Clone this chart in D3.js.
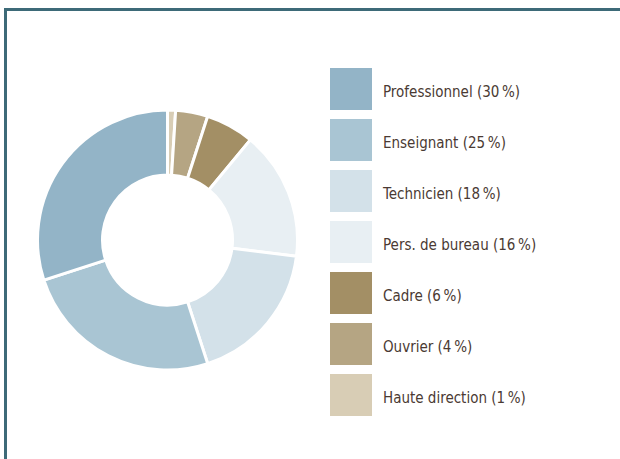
<!DOCTYPE html>
<html>
<head>
<meta charset="utf-8">
<script src="https://cdn.jsdelivr.net/npm/d3@7"></script>
<style>
  body { margin: 0; background: #fff; }
  svg { display: block; }
</style>
</head>
<body>
<div id="chart"></div>
<script>
// categories in legend order, with shares in percent
const categories = ["Professionnel", "Enseignant", "Technicien", "Pers. de bureau", "Cadre", "Ouvrier", "Haute direction"];
const shares = [30, 25, 18, 16, 6, 4, 1];
const colors = ["#93b4c7", "#a9c5d3", "#d3e1e9", "#e8eff3", "#a38f65", "#b5a583", "#d8cdb5"];

const width = 620, height = 459;

const svg = d3.select("#chart").append("svg")
    .attr("width", width)
    .attr("height", height);

// frame: top and left rule
svg.append("path")
    .attr("d", `M5.5,${height} V9.5 H${width}`)
    .style("fill", "none")
    .style("stroke", "#3d6a78")
    .style("stroke-width", 3);

const data = categories.map((c, i) => ({ name: c, value: shares[i], color: colors[i] }));

// slices run clockwise from 12 o'clock, smallest first
const pie = d3.pie()
    .value(d => d.value)
    .sort(null);

const arcs = pie(data.slice().reverse());

const arc = d3.arc()
    .innerRadius(65)
    .outerRadius(130);

const g = svg.append("g")
    .attr("transform", "translate(167.5,240)");

g.selectAll("path")
    .data(arcs)
    .enter().append("path")
    .attr("d", arc)
    .style("fill", d => d.data.color)
    .style("stroke", "#fff")
    .style("stroke-width", 3);

// legend
const y = d3.scaleBand()
    .domain(categories)
    .range([68, 416])
    .paddingInner(9 / 51);

const legend = svg.append("g");

const row = legend.selectAll("g")
    .data(data)
    .enter().append("g")
    .attr("transform", d => `translate(330,${y(d.name)})`);

row.append("rect")
    .attr("width", 42)
    .attr("height", y.bandwidth())
    .style("fill", d => d.color);

row.append("text")
    .attr("x", 53)
    .attr("y", y.bandwidth() / 2)
    .attr("dy", "0.5em")
    .text(d => `${d.name} (${d.value}\u2009%)`)
    .style("fill", "#4a3a33")
    .style("font-size", "15px")
    .style("font-family", "'Liberation Sans Narrow', 'DejaVu Sans Condensed', sans-serif");
</script>
</body>
</html>
